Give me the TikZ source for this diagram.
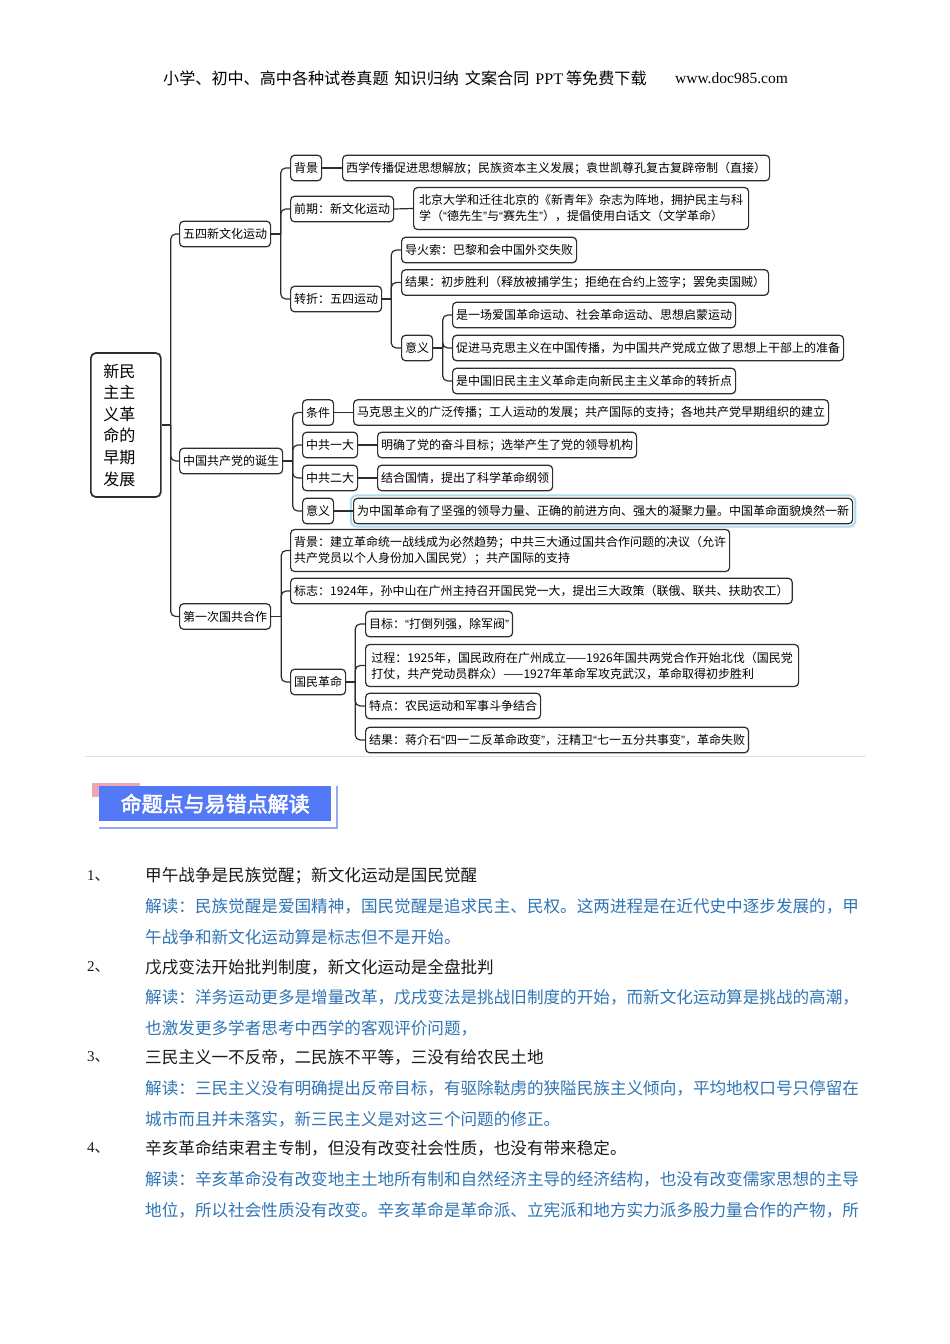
\documentclass[tikz,border=0pt]{standalone}
\usepackage{fontspec}
\setmainfont{Noto Sans CJK SC}
\newfontfamily\lserif{Liberation Serif}
\newfontfamily\lsans{Liberation Sans}
\newfontfamily\cjkbold[FakeBold=2.5]{Noto Sans CJK SC}
\newcommand\myoq{{\lsans\char"201C}}
\newcommand\mycq{{\lsans\char"201D}}
\definecolor{linec}{RGB}{45,45,45}
\definecolor{explblue}{RGB}{47,117,181}
\definecolor{bannerblue}{RGB}{84,121,247}
\definecolor{bannershadow}{RGB}{150,170,240}
\definecolor{bannerpink}{RGB}{240,165,178}
\definecolor{glowblue}{RGB}{175,218,242}
\tikzset{
  box/.style={draw=linec, line width=1.2pt, rounded corners=4pt, inner xsep=3.5pt, inner ysep=0pt,
    minimum height=25.5pt, font=\fontsize{12}{16}\selectfont, anchor=west, fill=white, align=left},
  boxtwo/.style={box, minimum height=42pt},
  rootbox/.style={draw=linec, line width=1.7pt, rounded corners=5pt, inner xsep=12.5pt, inner ysep=0pt,
    minimum height=144pt, text width=45pt, align=left, anchor=west, font=\fontsize{16}{21.6}\selectfont},
  conn/.style={draw=linec, line width=1.2pt},
  branch/.style={conn, rounded corners=5pt},
  txt/.style={anchor=west, inner sep=0pt, font=\fontsize{16.6}{18}\selectfont, text=black!90},
  expl/.style={txt, text=explblue},
  num/.style={anchor=west, inner sep=0pt, font=\fontsize{15}{15}\selectfont, text=black!90},
}
\begin{document}
\begin{tikzpicture}[x=1pt,y=-1pt]
\useasboundingbox (0,0) rectangle (950,1344);
\fill[white] (0,0) rectangle (950,1344);

% header
\node[anchor=west, inner sep=0pt, font=\fontsize{16.1}{16.1}\selectfont] (hdr) at (163,78)
  {小学、初中、高中各种试卷真题\hspace{6pt}知识归纳\hspace{6pt}文案合同\hspace{6pt}{\lserif PPT}\hspace{3pt}等免费下载};
\node[anchor=east, inner sep=0pt, font=\lserif\fontsize{15.5}{15.5}\selectfont] (url) at (788,78) {www.doc985.com};

% root and level 1
\node[rootbox] (root) at (90,425) {新民\\主主\\义革\\命的\\早期\\发展};
\node[box] (a) at (179,234) {五四新文化运动};
\node[box] (b) at (179,461) {中国共产党的诞生};
\node[box] (c) at (179,616.5) {第一次国共合作};
\draw[conn] (root.east) -- ++(9,0) coordinate (r0);
\foreach \n in {a,b,c} \draw[branch] (r0) |- (\n.west);

% branch a
\node[box] (a1) at (290,168) {背景};
\node[box] (a1t) at (342,168) {西学传播促进思想解放；民族资本主义发展；袁世凯尊孔复古复辟帝制（直接）};
\node[box] (a2) at (290,209) {前期：新文化运动};
\node[boxtwo, minimum width=335pt] (a2t) at (413,208.5) {北京大学和迁往北京的《新青年》杂志为阵地，拥护民主与科\\学（\myoq 德先生\mycq 与\myoq 赛先生\mycq ），提倡使用白话文（文学革命）};
\node[box] (a3) at (290,299) {转折：五四运动};
\draw[conn] (a.east) -- ++(9.5,0) coordinate (s0);
\foreach \n in {a1,a2,a3} \draw[branch] (s0) |- (\n.west);
\draw[conn] (a1.east) -- (a1t.west);
\draw[conn] (a2.east) -- (a2t.west);

\node[box] (a31) at (401,250) {导火索：巴黎和会中国外交失败};
\node[box] (a32) at (401,282.5) {结果：初步胜利（释放被捕学生；拒绝在合约上签字；罢免卖国贼）};
\node[box] (a33) at (401,348) {意义};
\draw[conn] (a3.east) -- ++(9,0) coordinate (s1);
\foreach \n in {a31,a32,a33} \draw[branch] (s1) |- (\n.west);

\node[box] (a331) at (452,315) {是一场爱国革命运动、社会革命运动、思想启蒙运动};
\node[box] (a332) at (452,348) {促进马克思主义在中国传播，为中国共产党成立做了思想上干部上的准备};
\node[box] (a333) at (452,381) {是中国旧民主主义革命走向新民主主义革命的转折点};
\draw[conn] (a33.east) -- ++(9.5,0) coordinate (s2);
\foreach \n in {a331,a332,a333} \draw[branch] (s2) |- (\n.west);

% branch b
\node[box] (b1) at (302,412.5) {条件};
\node[box] (b1t) at (353,412.5) {马克思主义的广泛传播；工人运动的发展；共产国际的支持；各地共产党早期组织的建立};
\node[box] (b2) at (302,445) {中共一大};
\node[box] (b2t) at (377,445) {明确了党的奋斗目标；选举产生了党的领导机构};
\node[box] (b3) at (302,478) {中共二大};
\node[box] (b3t) at (377,478) {结合国情，提出了科学革命纲领};
\node[box] (b4) at (302,511) {意义};
\node[box] (b4t) at (353,511) {为中国革命有了坚强的领导力量、正确的前进方向、强大的凝聚力量。中国革命面貌焕然一新};
\draw[glowblue, line width=2pt, rounded corners=6pt] ([shift={(-2.2,-2.2)}]b4t.north west) rectangle ([shift={(2.2,2.2)}]b4t.south east);
\draw[conn] (b.east) -- ++(9.5,0) coordinate (s3);
\foreach \n in {b1,b2,b3,b4} \draw[branch] (s3) |- (\n.west);
\draw[conn] (b1.east) -- (b1t.west);
\draw[conn] (b2.east) -- (b2t.west);
\draw[conn] (b3.east) -- (b3t.west);
\draw[conn] (b4.east) -- (b4t.west);

% branch c
\node[boxtwo, minimum width=439pt] (c1) at (290,550.5) {背景：建立革命统一战线成为必然趋势；中共三大通过国共合作问题的决议（允许\\共产党员以个人身份加入国民党）；共产国际的支持};
\node[box] (c2) at (290,591) {标志：1924年，孙中山在广州主持召开国民党一大，提出三大政策（联俄、联共、扶助农工）};
\node[box] (c3) at (290,682) {国民革命};
\draw[conn] (c.east) -- ++(10,0) coordinate (s4);
\foreach \n in {c1,c2,c3} \draw[branch] (s4) |- (\n.west);

\node[box] (c31) at (365,624) {目标：\myoq 打倒列强，除军阀\mycq};
\node[boxtwo, minimum width=433pt] (c32) at (365,665.5) {过程：1925年，国民政府在广州成立——1926年国共两党合作开始北伐（国民党\\打仗，共产党动员群众）——1927年革命军攻克武汉，革命取得初步胜利};
\node[box] (c33) at (365,706) {特点：农民运动和军事斗争结合};
\node[box] (c34) at (365,740) {结果：蒋介石\myoq 四一二反革命政变\mycq ，汪精卫\myoq 七一五分共事变\mycq ，革命失败};
\draw[conn] (c3.east) -- ++(9,0) coordinate (s5);
\foreach \n in {c31,c32,c33,c34} \draw[branch] (s5) |- (\n.west);

% faint frame line
\draw[black!12, line width=0.8pt] (85,756) -- (866,756);

% banner
\fill[bannerpink] (92,783) rectangle (140,797);
\draw[bannershadow, line width=1.6pt] (337,786) -- (337,828) -- (99,828);
\node[fill=bannerblue, minimum width=232pt, minimum height=35pt, inner sep=0pt, anchor=north west,
  text=white, font=\cjkbold\fontsize{21}{21}\selectfont] (ban) at (99,786) {命题点与易错点解读};

% body text
\node[num] (n1) at (87,876) {{\lserif 1}、};
\node[txt] (t1) at (145,876) {甲午战争是民族觉醒；新文化运动是国民觉醒};
\node[expl] (e1a) at (145,906) {解读：民族觉醒是爱国精神，国民觉醒是追求民主、民权。这两进程是在近代史中逐步发展的，甲};
\node[expl] (e1b) at (145,937) {午战争和新文化运动算是标志但不是开始。};

\node[num] (n2) at (87,967) {{\lserif 2}、};
\node[txt] (t2) at (145,967) {戊戌变法开始批判制度，新文化运动是全盘批判};
\node[expl] (e2a) at (145,997) {解读：洋务运动更多是增量改革，戊戌变法是挑战旧制度的开始，而新文化运动算是挑战的高潮，};
\node[expl] (e2b) at (145,1028) {也激发更多学者思考中西学的客观评价问题，};

\node[num] (n3) at (87,1057) {{\lserif 3}、};
\node[txt] (t3) at (145,1057) {三民主义一不反帝，二民族不平等，三没有给农民土地};
\node[expl] (e3a) at (145,1088) {解读：三民主义没有明确提出反帝目标，有驱除鞑虏的狭隘民族主义倾向，平均地权口号只停留在};
\node[expl] (e3b) at (145,1119) {城市而且并未落实，新三民主义是对这三个问题的修正。};

\node[num] (n4) at (87,1148) {{\lserif 4}、};
\node[txt] (t4) at (145,1148) {辛亥革命结束君主专制，但没有改变社会性质，也没有带来稳定。};
\node[expl] (e4a) at (145,1179) {解读：辛亥革命没有改变地主土地所有制和自然经济主导的经济结构，也没有改变儒家思想的主导};
\node[expl] (e4b) at (145,1210) {地位，所以社会性质没有改变。辛亥革命是革命派、立宪派和地方实力派多股力量合作的产物，所};
\end{tikzpicture}
\end{document}
